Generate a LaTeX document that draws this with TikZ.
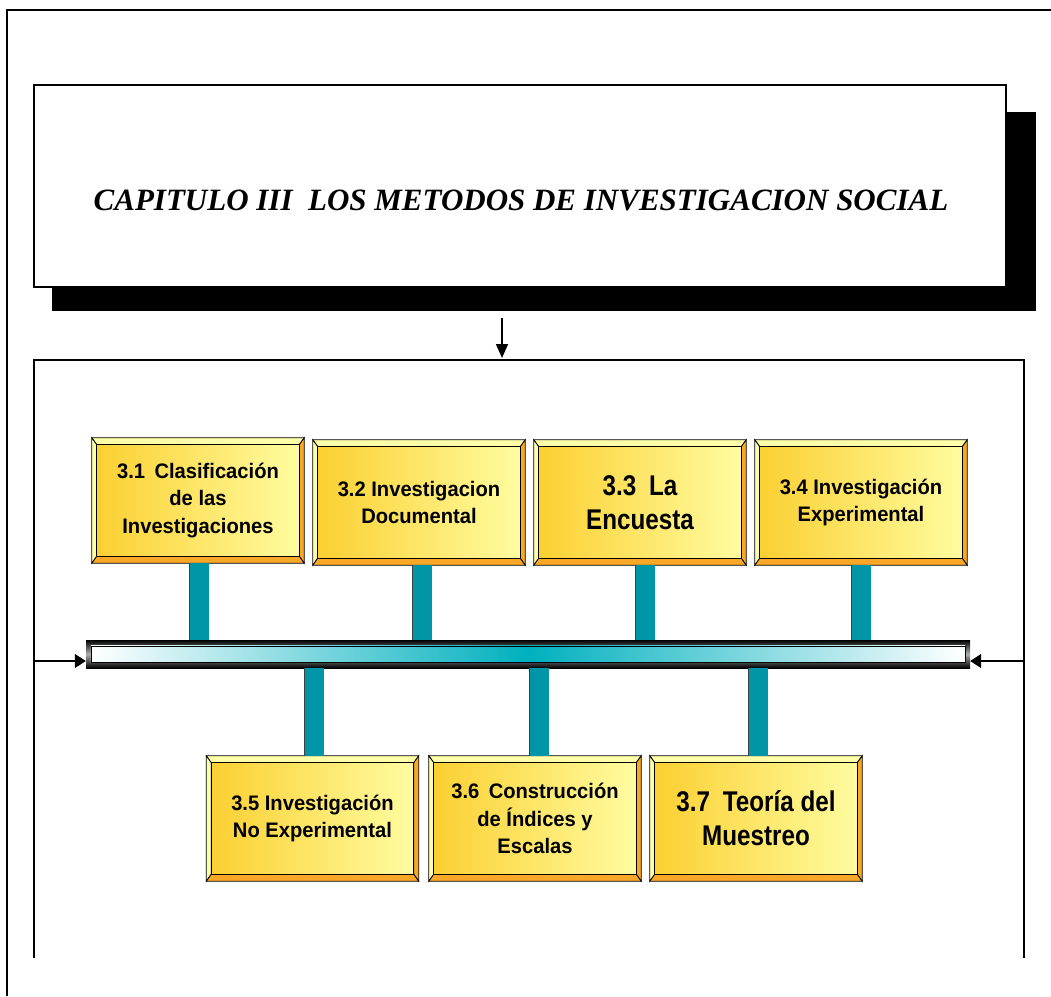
\documentclass[tikz,border=0pt]{standalone}
\usepackage{fontspec}
\setmainfont{Liberation Serif}
\newfontfamily\bxf{Liberation Sans}[FakeStretch=0.96]
\newfontfamily\bxl{Liberation Sans}[FakeStretch=0.85]
\usetikzlibrary{arrows.meta,calc}
\definecolor{facel}{RGB}{251,208,50}
\definecolor{facer}{RGB}{255,252,160}
\definecolor{bevlight}{RGB}{255,255,170}
\definecolor{bevdark}{RGB}{248,168,38}
\definecolor{connteal}{RGB}{0,150,167}
\definecolor{barteal}{RGB}{0,176,190}
\newcommand\smallf{\bxf\bfseries\fontsize{21}{27.5}\selectfont}
\newcommand\largef{\bxl\bfseries\fontsize{28.5}{34}\selectfont}
\newcommand\bevel[1]{%
  \coordinate (#1-a) at ([xshift=5pt,yshift=-7pt]#1.north west);
  \coordinate (#1-b) at ([xshift=-5pt,yshift=-7pt]#1.north east);
  \coordinate (#1-c) at ([xshift=-5pt,yshift=7pt]#1.south east);
  \coordinate (#1-d) at ([xshift=5pt,yshift=7pt]#1.south west);
  \filldraw[bevline, fill=bevlight] (#1.north west) -- (#1.north east) -- (#1-b) -- (#1-a) -- cycle;
  \filldraw[bevline, fill=bevlight] (#1.north west) -- (#1-a) -- (#1-d) -- (#1.south west) -- cycle;
  \filldraw[bevline, fill=bevdark] (#1.north east) -- (#1.south east) -- (#1-c) -- (#1-b) -- cycle;
  \filldraw[bevline, fill=bevdark] (#1.south west) -- (#1-d) -- (#1-c) -- (#1.south east) -- cycle;
  \draw[bevline, left color=facel, right color=facer] (#1-a) rectangle (#1-c);
}
\newcommand\bevbox[4]{% name, position, font, text
  \node[bx] (#1) at (#2) {};
  \bevel{#1}
  \node[bxt, font=#3] (#1t) at (#1) {#4};
}
\begin{document}
\begin{tikzpicture}[x=1pt,y=-1pt,
  frame/.style={line width=1.5pt, draw=black},
  bx/.style={minimum width=212pt, minimum height=125pt, inner sep=0pt, draw=none},
  bxt/.style={align=center, inner sep=0pt},
  bevline/.style={draw=black, line width=0.8pt, line join=miter},
  conn/.style={draw=black!75, line width=0.8pt, double=connteal, double distance=19pt},
  harr/.style={line width=1.2pt, -{Triangle[length=11pt,width=14pt]}},
]
\useasboundingbox (0,0) rectangle (1051,996);
% outer frame
\draw[frame] (7,996) -- (7,10) -- (1051,10);
% title with shadow
\fill[black] (52,112) rectangle (1036,311);
\node[draw, line width=1.5pt, fill=white, minimum width=972pt, minimum height=202pt, inner sep=0pt] (title) at (520,186) {};
\node[font=\fontsize{31}{36}\selectfont\bfseries\itshape, inner sep=0pt] (titletext) at (521,200) {CAPITULO III\ \ LOS METODOS DE INVESTIGACION SOCIAL};
% arrow down
\coordinate (arrtop) at (502,318);
\coordinate (arrend) at (502,358);
\draw[line width=1.5pt, -{Triangle[length=14pt,width=12pt]}] (arrtop) -- (arrend);
% inner frame
\draw[frame] (34,958) -- (34,360) -- (1024,360) -- (1024,958);
% bar
\node[draw=none, minimum width=884pt, minimum height=28pt, inner sep=0pt,
      top color=black, bottom color=black, middle color=gray!65] (bar) at (528,654) {};
\draw[line width=0.6pt, left color=white, right color=white, middle color=barteal]
  ([xshift=5pt,yshift=-6pt]bar.north west) rectangle ([xshift=-5pt,yshift=6pt]bar.south east);
% boxes
\bevbox{b1}{198,500.5}{\smallf}{3.1\hspace{0.45em}Clasificación\\de las\\Investigaciones}
\bevbox{b2}{419,502.5}{\smallf}{3.2 Investigacion\\Documental}
\bevbox{b3}{640,502.5}{\largef}{3.3\hspace{0.45em}La\\Encuesta}
\bevbox{b4}{861,502.5}{\smallf}{3.4 Investigación\\Experimental}
\bevbox{b5}{312.5,818.5}{\smallf}{3.5 Investigación\\No Experimental}
\bevbox{b6}{535,818.5}{\smallf}{3.6\hspace{0.45em}Construcción\\de Índices y\\Escalas}
\bevbox{b7}{756,818.5}{\largef}{3.7\hspace{0.45em}Teoría del\\Muestreo}
% connectors
\draw[conn] ([xshift=1pt]b1.south) -- ([xshift=1pt]b1.south |- bar.north);
\draw[conn] ([xshift=3pt]b2.south) -- ([xshift=3pt]b2.south |- bar.north);
\draw[conn] ([xshift=5pt]b3.south) -- ([xshift=5pt]b3.south |- bar.north);
\draw[conn] (b4.south) -- (b4.south |- bar.north);
\draw[conn] ([xshift=1.5pt]b5.north) -- ([xshift=1.5pt]b5.north |- bar.south);
\draw[conn] ([xshift=4pt]b6.north) -- ([xshift=4pt]b6.north |- bar.south);
\draw[conn] ([xshift=2pt]b7.north) -- ([xshift=2pt]b7.north |- bar.south);
% side arrows
\coordinate (lstart) at (34,661);
\coordinate (rstart) at (1024,661);
\draw[harr] (lstart) -- ([yshift=-7pt]bar.west);
\draw[harr] (rstart) -- ([yshift=-7pt]bar.east);
\end{tikzpicture}
\end{document}
